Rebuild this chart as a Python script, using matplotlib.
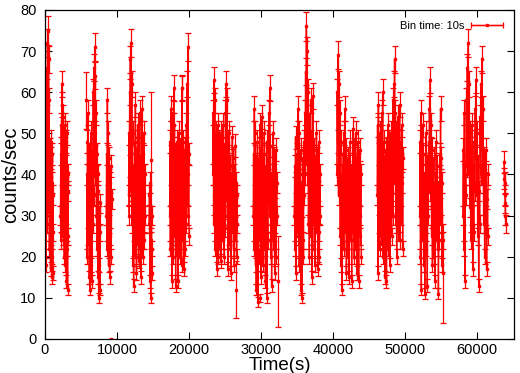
#!/usr/bin/env python3

import numpy as np
import matplotlib
matplotlib.use('Agg')
import matplotlib.pyplot as plt
from matplotlib.container import ErrorbarContainer
from matplotlib.legend_handler import HandlerErrorbar

plt.rcParams['font.family'] = ['Liberation Sans', 'DejaVu Sans']

BIN = 10.0          # bin time (s)
EXPO_FRAC = 0.6     # mean fractional exposure per bin

# light curve, one list per observing segment (rates in counts/sec)
seg_t0 = [0, 2150, 5800, 8500, 11600, 14450, 17300, 23300, 28900, 34600,
          40500, 46100, 52000, 58000, 63700]
seg_t1 = [1150, 3250, 7700, 9250, 13900, 14900, 20000, 26700, 32200, 38200,
          43900, 49700, 55200, 61500, 63950]

seg_rates = [
    [24, 55, 30, 63, 18, 48, 35, 60, 28, 72, 40, 75, 33, 68, 45, 58, 22, 46,
     30, 42, 17, 44, 25, 48, 15, 38, 20, 45, 16, 35, 26],
    [30, 45, 24, 52, 35, 62, 28, 57, 40, 54, 25, 50, 33, 46, 20, 44, 30, 52,
     18, 42, 26, 48, 14, 38, 22, 50, 12, 36, 25, 40],
    [40, 20, 48, 25, 55, 30, 45, 15, 38, 12, 42, 22, 50, 18, 35, 14, 46, 28,
     60, 35, 66, 42, 71, 50, 64, 38, 55, 30, 45, 22, 40, 15, 36, 10, 30, 18,
     26, 12, 33],
    [30, 45, 22, 58, 35, 50, 18, 44, 28, 15, 38, 25, 42, 20, 34],
    [35, 50, 30, 60, 42, 68, 36, 72, 45, 62, 28, 50, 18, 40, 13, 35, 22, 48,
     30, 57, 20, 44, 16, 38, 25, 52, 34, 46, 19, 40, 28, 55, 22, 42, 15, 36,
     26, 56, 33, 45, 20, 38, 28, 50, 24, 40, 30],
    [28, 35, 14, 38, 10, 24, 30, 16, 22],
    [30, 48, 22, 56, 35, 50, 14, 42, 28, 55, 20, 61, 38, 52, 25, 45, 13, 36,
     22, 48, 30, 44, 14, 40, 26, 50, 35, 46, 20, 38, 28, 44, 18, 61, 34, 42,
     24, 48, 17, 36, 30, 46, 22, 40, 28, 52, 35, 62, 40, 71, 30, 45, 25],
    [40, 55, 28, 63, 35, 58, 22, 50, 30, 45, 17, 42, 26, 52, 20, 48, 34, 44,
     22, 38, 28, 50, 19, 46, 32, 40, 24, 52, 30, 45, 20, 36, 27, 55, 36, 62,
     42, 58, 30, 48, 17, 40, 25, 50, 33, 42, 22, 38, 16, 34, 28, 49, 35, 44,
     22, 40, 18, 32, 26, 47, 30, 38, 20, 35, 28],
    [30, 45, 22, 56, 35, 50, 18, 42, 12, 38, 25, 48, 9, 35, 20, 44, 30, 52,
     24, 40, 15, 46, 32, 54, 26, 38, 18, 45, 30, 50, 22, 36, 14, 42, 28, 48,
     10, 34, 24, 44, 33, 55, 40, 61, 30, 47, 20, 38, 13, 35, 26, 50, 36, 44,
     22, 40, 16, 32, 28, 46, 20, 38, 30],
    [30, 42, 22, 49, 16, 38, 28, 45, 34, 56, 25, 50, 18, 40, 30, 46, 12, 36,
     10, 32, 24, 44, 20, 48, 35, 55, 40, 65, 45, 76, 50, 70, 38, 60, 28, 52,
     20, 44, 32, 58, 25, 48, 15, 40, 30, 59, 35, 46, 22, 42, 18, 38, 28, 50,
     33, 44, 17, 36, 26, 48, 20, 40, 30],
    [40, 60, 48, 69, 35, 62, 42, 55, 25, 48, 18, 40, 12, 36, 28, 45, 22, 50,
     34, 56, 26, 46, 16, 38, 30, 44, 20, 42, 15, 34, 28, 48, 24, 40, 14, 36,
     32, 51, 26, 46, 20, 42, 30, 50, 22, 38, 16, 44, 28, 48, 14, 35, 25, 46,
     30, 40, 20],
    [35, 52, 16, 57, 28, 45, 22, 50, 38, 44, 25, 55, 30, 60, 20, 48, 34, 42,
     15, 38, 26, 46, 14, 40, 30, 52, 22, 36, 28, 48, 18, 42, 33, 50, 25, 44,
     36, 58, 30, 62, 45, 68, 38, 55, 28, 50, 20, 46, 32, 54, 26, 40, 35, 57,
     24, 48, 30, 42, 38, 52, 22, 44],
    [30, 48, 20, 55, 12, 40, 26, 52, 35, 45, 18, 38, 11, 34, 28, 50, 22, 42,
     13, 36, 30, 48, 38, 56, 42, 63, 34, 52, 25, 46, 18, 40, 30, 44, 20, 38,
     14, 32, 26, 48, 34, 42, 22, 36, 11, 30, 24, 45, 32, 56, 28, 44, 18, 38,
     24],
    [30, 46, 22, 55, 14, 40, 35, 58, 42, 66, 48, 72, 40, 62, 32, 50, 24, 44,
     30, 52, 17, 40, 26, 48, 36, 56, 44, 63, 35, 50, 25, 42, 13, 36, 28, 54,
     40, 62, 46, 68, 38, 56, 28, 44, 20, 38, 30, 46, 17, 34, 25, 40],
    [43, 39, 38, 35, 33, 30, 28],
]

# short bins at segment edges (large errors)
edge_t = [5650, 9100, 14700, 18950, 26500, 29800, 32300, 55300]
edge_rate = [58, 0, 43.5, 61, 12, 10, 14, 16]
edge_err = [7, 0, 16.5, 3, 7, 1, 11, 12]

RED = '#ff0000'

fig = plt.figure(figsize=(5.2, 3.73), dpi=100)
ax = fig.add_axes([0.0865, 0.0912, 0.902, 0.882])

style = dict(color=RED, ecolor=RED, mec=RED, mfc=RED, lw=1.0,
             elinewidth=0.9, capsize=2.2, capthick=0.9, ms=1.6)

for t0, t1, r in zip(seg_t0, seg_t1, seg_rates):
    r = np.array(r, dtype=float)
    t = np.linspace(t0, t1, len(r))
    err = np.sqrt(r / (BIN * EXPO_FRAC))
    ax.errorbar(t, r, yerr=err, fmt='s-', **style)

ax.errorbar(edge_t, edge_rate, yerr=edge_err, fmt='s', **style)

# legend sample drawn gnuplot-like: horizontal bar with end caps
proxy = ax.errorbar([np.nan], [np.nan], xerr=[1.0], fmt='s-', **style)
ax.legend([proxy], ['Bin time: 10s'], loc='upper right', frameon=False,
          markerfirst=False, fontsize=8, handlelength=2.9,
          borderaxespad=0.6, handletextpad=0.6,
          handler_map={ErrorbarContainer: HandlerErrorbar(xerr_size=1.45)})

ax.set_xlim(0, 65100)
ax.set_ylim(0, 80)
ax.set_xticks(np.arange(0, 60001, 10000))
ax.set_yticks(np.arange(0, 81, 10))
ax.tick_params(direction='in', top=True, right=True, length=5, width=0.8,
               labelsize=10.5)
ax.tick_params(axis='x', pad=3)
ax.tick_params(axis='y', pad=6)
for s in ax.spines.values():
    s.set_linewidth(0.9)
ax.set_xlabel('Time(s)', fontsize=13.5, labelpad=0)
ax.set_ylabel('counts/sec', fontsize=14.5, labelpad=0)

plt.savefig('out.png', dpi=100)
